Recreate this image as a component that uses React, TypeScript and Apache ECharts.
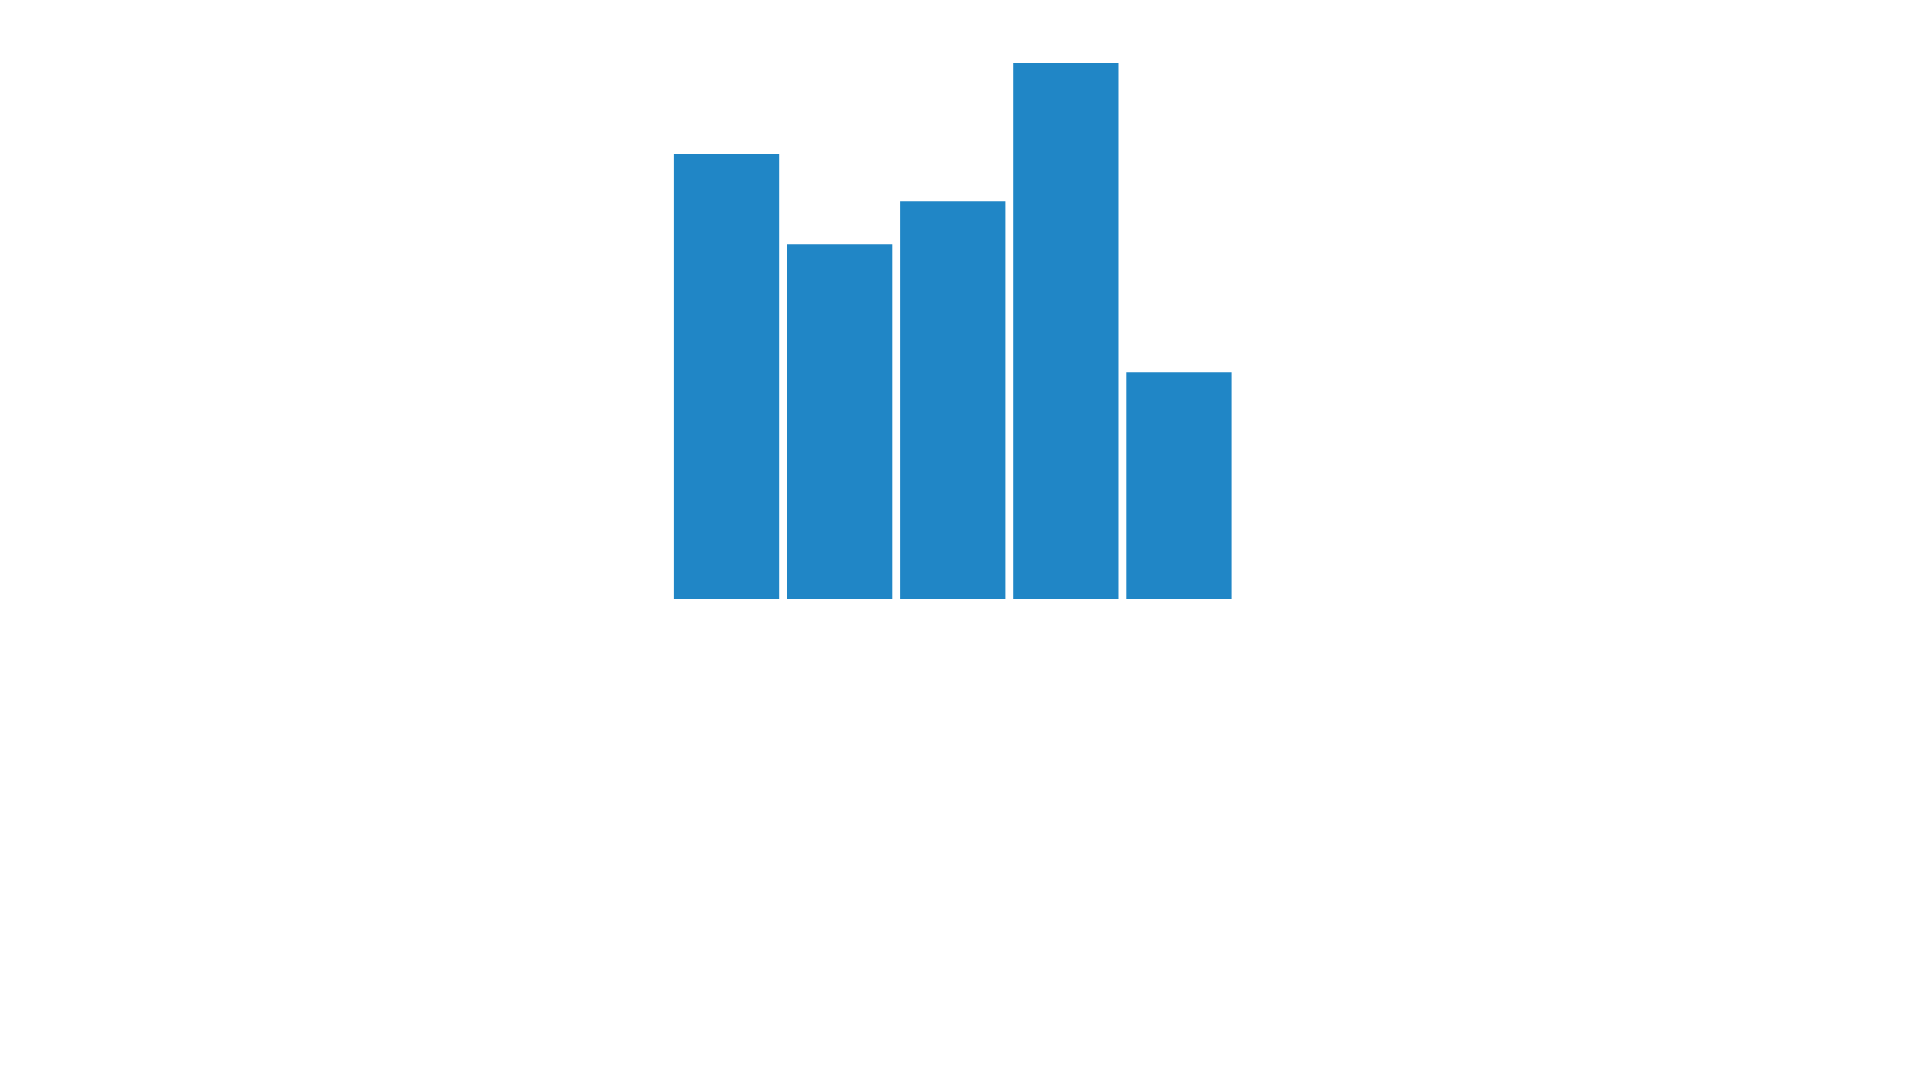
import React, { useEffect, useRef } from 'react';
import * as echarts from 'echarts';

// 類別與數值
const categories: string[] = ['A', 'B', 'C', 'D', 'E'];
const values: number[] = [83, 66.2, 74.2, 100, 42.3];
const barColor = '#2086c6';

/**
 * 柱狀圖組件（無坐標軸）
 */
const BarChart: React.FC = () => {
  const chartRef = useRef<HTMLDivElement>(null);

  useEffect(() => {
    if (!chartRef.current) return;
    const chart = echarts.init(chartRef.current, undefined, { renderer: 'svg' });

    const option: echarts.EChartsOption = {
      animation: false,
      grid: {
        left: 662,
        top: 55,
        width: 565.5,
        height: 536,
        containLabel: false,
      },
      xAxis: {
        type: 'category',
        data: categories,
        show: false,
      },
      yAxis: {
        type: 'value',
        min: 0,
        max: 100,
        show: false,
      },
      series: [
        {
          type: 'bar',
          data: values,
          barCategoryGap: '6.9%',
          itemStyle: { color: barColor },
        },
      ],
    };
    chart.setOption(option);

    return () => {
      chart.dispose();
    };
  }, []);

  return <div ref={chartRef} style={{ width: '100%', height: 1064 }} />;
};

export default function App() {
  return <BarChart />;
}
